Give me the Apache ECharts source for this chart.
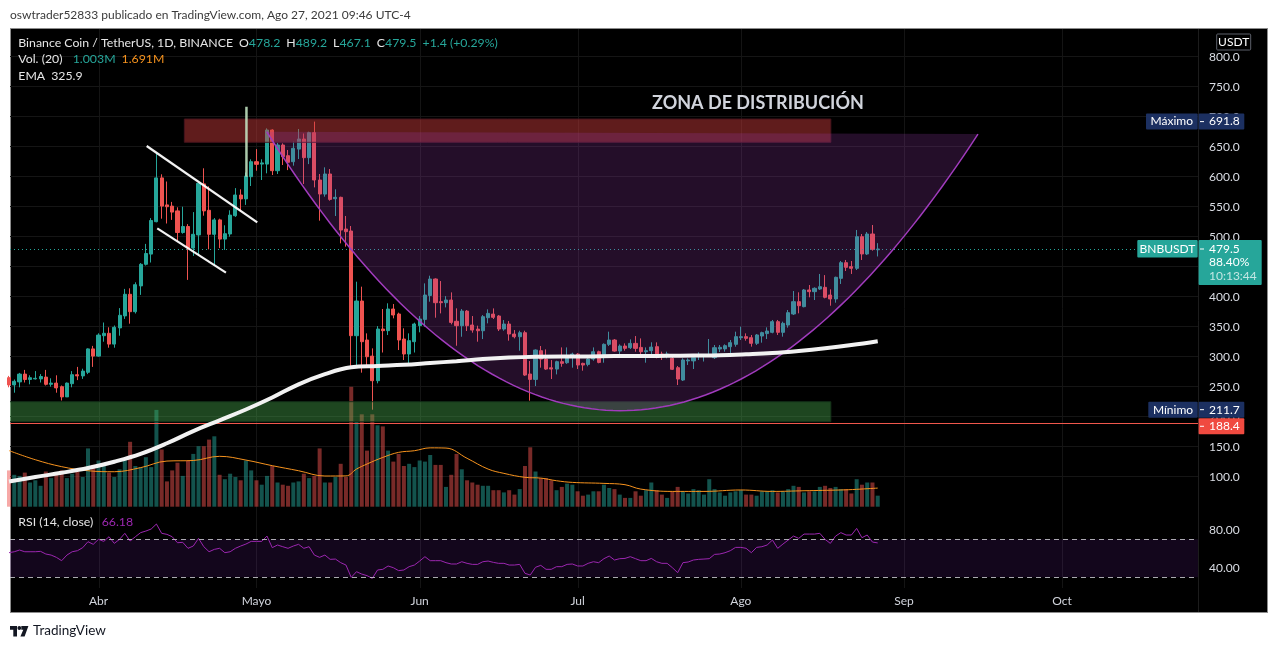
<!DOCTYPE html>
<html>
<head>
<meta charset="utf-8">
<script src="https://cdn.jsdelivr.net/npm/echarts@6/dist/echarts.min.js"></script>
<style>
html,body{margin:0;padding:0;background:#fff;width:1279px;height:649px;overflow:hidden}
#frame{position:absolute;left:10px;top:28px;width:1256px;height:583px;background:#000;border:1px solid #8c8c8c}
#chart{position:absolute;left:0;top:0;width:1279px;height:649px}
</style>
</head>
<body>
<div id="frame"></div>
<div id="chart"></div>
<script>
(function(){
// ---------- DATA ----------
const startDay = 74; // day-of-year of first candle, 15 Mar 2021
const monthStarts = [91, 121, 152, 182, 213, 244, 274];
const monthNames = ['Abr', 'Mayo', 'Jun', 'Jul', 'Ago', 'Sep', 'Oct'];

const open = [
 265,253,258,271,262,263,263,266,254,256,250,
 233,255,270,268,274,313,301,335,339,321,
 348,368,404,375,418,454,471,525,598,553,
 551,543,507,517,481,503,588,544,504,528,
 496,504.5,535,569.5,563,600,625,621,621,677.8,
 610,652.8,635,625,646,662.8,631.7,673.4,594.5,571,
 604.5,563.3,565.6,512.8,509.5,335,392.8,327.8,301,260,
 346.1,343.4,379.5,371.1,329.5,304.5,325,351.7,362.2,402,
 429.5,391.7,390,394.4,359,351.7,376,352.8,346,343.3,
 365,371,367.8,346.1,354.4,337.8,333.3,340,271.1,262.2,
 310,296,281.5,279.4,291.7,290,298.9,304.4,288.9,287.2,
 296.1,308.3,299,320.6,327.8,309.4,317.8,315,322.2,315.5,
 308.3,310,316.7,304.5,301.7,297.3,281.7,261.1,293,293,
 300.1,301,302,298.4,312.8,313,316.7,320.6,331.7,333.4,
 331.7,322.3,334.5,338.5,340.6,358.4,340.6,352.8,371.2,391.7,
 383.4,411.2,408.4,412.8,415.6,402.8,396.2,430.6,456.7,450.1,
 447.3,500,471.2,504.5,478.2
];
const high = [
 268,262,273,278,269,276,271,278,264,269,252,
 257,276,283,280,314,318,339,357,349,352,
 381,413,414,424,456,488,531,639,604,592,
 558,549,550,521,541,590,614,584,531,530,
 519,544,581,579,607,629,646,629,680.6,679,
 656.7,655.6,644.5,658.4,679.5,672,675,691.8,604.5,615.6,
 612.8,579,566.7,534.5,517.8,425,416.7,338.9,313.9,351,
 379.5,389,387.8,373.4,347.3,338.9,356.7,367.8,422.2,435,
 430.6,426.1,401,407.2,380.6,379.4,377.8,367.8,351.7,369.4,
 378.9,380.5,369.4,361.1,359.4,344.4,343.3,343.3,292.8,312.2,
 317.8,312.2,294.4,293.3,315.5,315.5,306.7,306,290,301.1,
 315.5,310,322.2,341.7,329.4,320.5,322.2,328.9,334.4,330.5,
 315.5,324,323.9,308.4,308.4,300.1,284.5,297.3,297.3,302.8,
 307.3,304,329.5,319.5,319.5,320.6,327.8,341.7,350,338.9,
 336.2,337.8,341.7,348.9,361.2,361.2,358.4,377.8,409.5,407.3,
 412.8,419.5,415.6,437.9,436,412.3,433.4,459.5,461.2,459.5,
 511.2,504.5,507.8,519.5,489.2
];
const low = [
 249,240,249,257,254,262,257,252,250,240,227,
 233,249,261,263,271,283,300,325,315,315,
 335,363,355,372,403,452,457,524,530,522,
 528,493,505,428,468,468,535,479,452,481,
 478,500,533,542,553,584.5,610,594.5,605.6,602.8,
 604.5,619.5,611,618.4,629.5,587.8,621,582.2,526.7,566.7,
 560,534.5,488.9,483.4,283.4,283.4,273.4,283.4,211.7,255.6,
 307,336.1,363.9,311.1,294.5,288.9,307,340.6,350,391.7,
 365,372.2,382.2,353.9,318.3,333.3,342.8,340,325,329.4,
 355.6,362.8,342.8,343.3,326.7,330.5,310,268,226.7,251.1,
 281.7,278,262.8,270.5,283.3,288,281.7,279.4,276.7,284,
 293.3,289,290,317.8,308.3,304.4,310,312.8,308.3,304.4,
 290,303,297.3,294.5,297.3,277.8,252.8,259.5,286.2,279.5,
 294.5,292,300,296.2,307.8,308.4,305.6,316.7,327.8,326.7,
 316.7,319.5,323.4,329.5,339,336.2,333.4,348.4,369.5,372.3,
 382.3,399,394.5,411.2,397.3,385,390,421.2,442.8,437.9,
 444.5,461.2,469.5,476.7,467.1
];
const close = [
 253,259,271,262,265,264,267,254,256,248,233,
 256,270,268,276,313,301,336,339,321,349,
 369,404,375,420,454,472,527,598,551,550,
 541,507,517,481,504,589,543,504,528,496,
 505,536,569.5,563,601,625,620.6,623,677.8,610,
 652.8,633.3,624,647.3,662.8,631.7,673.4,594.5,571.1,604.5,
 562.2,565.6,511.1,508.4,335,392.8,325,300,260,346.1,
 343.4,379.5,369.5,327.8,304.5,326.7,354.5,362.8,402.8,429.5,
 390,390,394.5,357.2,351.7,376.1,351.7,344.4,343.3,366.7,
 372.2,365.6,346.1,354.4,337.8,333.3,340,269.4,262.2,311.1,
 296,279.4,279.4,291.7,288.9,298.9,304.4,286.1,286.1,296.1,
 308.3,290.5,320.6,327.8,309.4,317.8,313.9,322.2,313.9,308.3,
 310,316,304.5,301.7,304.5,279,262.8,294.5,294.5,298.4,
 302.8,303,303.4,315,315.6,318.4,323.4,333.4,333.4,330.6,
 322.3,336.2,340.1,342.8,358.4,340.6,355.6,373.4,391.7,385,
 411.2,408.4,414,416.7,399,396.2,432.3,456.7,449,447.3,
 500,471.2,504.5,479,479.5
];
// volume in millions
const volume = [
 3.3,
 2.9,2.8,3.1,2.2,2.4,1.9,3.2,2.6,2.9,3.3,
 2.6,3.0,3.2,2.7,5.3,3.8,4.2,3.9,3.1,2.7,
 3.4,4.4,5.9,3.7,3.6,4.5,3.6,8.8,5.2,2.3,
 3.3,4.0,2.8,4.2,4.8,5.5,5.5,6.1,6.4,2.9,
 2.5,3.0,2.7,2.4,4.2,3.3,2.4,2.0,2.8,3.7,
 2.2,2.0,1.9,2.2,2.3,3.0,2.6,2.8,5.3,2.2,
 2.2,2.7,3.9,2.7,10.9,7.7,8.4,5.1,8.4,7.4,
 7.3,5.1,4.1,4.8,3.7,3.9,3.6,4.2,4.1,4.7,
 3.8,3.8,1.8,2.9,4.8,3.4,2.4,2.2,2.0,1.9,
 1.9,1.5,1.5,1.3,1.5,1.1,1.6,3.7,5.4,3.2,
 2.6,2.6,2.4,1.5,1.8,2.1,2.0,1.4,1.0,1.1,
 1.4,1.4,2.0,1.7,1.6,1.1,0.8,0.8,1.4,1.0,
 1.5,2.2,1.5,1.1,0.8,1.4,1.8,1.4,1.2,1.6,
 1.5,1.1,2.5,1.6,1.3,1.0,1.3,1.4,1.5,1.1,
 1.1,1.0,1.4,1.4,1.5,1.3,1.4,1.6,1.9,1.8,
 1.3,1.4,1.4,1.8,1.9,1.7,1.8,1.6,1.6,1.2,
 2.5,2.0,2.2,2.2,1.003
];
// 20-period volume moving average, read at these candle indices
const volMaIdx = [0,5,10,15,20,25,30,35,40,45,50,55,60,64,66,68,71,74,77,80,83,87,91,94,98,101,104,107,113,117,120,126,132,139,145,151,158,161,165];
const volMaVal = [5.1,4.27,3.64,3.27,3.18,3.55,4.15,4.2,4.58,4.24,3.73,3.27,2.79,2.8,3.42,3.88,4.48,4.94,5.09,5.35,5.33,4.4,3.42,3.03,2.67,2.6,2.36,2.21,2.12,2.0,1.6,1.39,1.39,1.52,1.39,1.45,1.52,1.58,1.691];
// EMA line, read at these candle indices
const emaIdx = [0,5,10,15,20,25,30,35,40,45,50,55,60,65,70,75,80,85,90,95,100,105,110,115,120,125,130,135,140,145,150,155,160,165];
const emaVal = [92,99.5,106.5,114.5,125,138,155.7,176,194,212,232,254,271,282.3,284.5,286.5,289.5,292.5,296,298.5,300,300.5,300.5,301,301,301.5,302,302.5,304,306,309.5,314,319.5,325.9];
// RSI(14)
const rsi = [
 55.9,56.9,58.7,56.9,56.9,56.9,57.3,54.5,53.4,51,47.5,
 53.4,56.9,58,61.2,67.5,64.7,70,67.8,72.7,65.7,
 70,76.3,68.2,72.7,77,78.7,80.8,86.1,76.3,75.2,
 72.7,66.4,66.8,60.5,62.9,71,62.2,56.9,59.4,60.5,
 55.9,56.9,60.5,62.9,65,67.8,67.8,67.8,73.4,61.2,
 64,62.2,60.5,62.9,64.7,60.5,62.2,53.4,51,53.4,
 48.9,49.2,45.4,42.9,29.9,35.9,33.4,31.7,28.9,37.7,
 38.4,41.9,40.1,37,37.7,41.2,42.9,47.1,51.7,47.5,
 47.5,47.5,45.4,44,44,46.4,44.7,43.6,43.6,46.4,
 47.1,45.7,44.7,44.7,42.9,42.9,43.6,34.2,32.4,40.5,
 42.6,38.4,38.4,41.2,41.2,43.6,44,41.9,41.9,44.7,
 46.4,45.4,49.6,52.4,48.2,49.6,49.9,51.7,49.6,47.5,
 47.5,49.9,46.4,44.7,44.7,40.1,34.9,45.4,46.1,48.2,
 48.9,49.2,49.6,54.1,54.5,55.9,58,61.5,61.5,60.5,
 55.9,61.5,62.2,64,69.2,60.5,65,69.2,73.4,71,
 75.5,75.5,75.5,76.3,69.9,65.7,73.4,77,74.5,74.5,
 81.5,71.7,74.5,67.1,66.18
];
// Annotations drawn on the chart, anchors as [day-of-year, price]
const distZone = [[107.3, 696.2], [230.1, 657.3]];
const supportZone = [[60, 225], [230.1, 191.7]];
const cupArc = [[122.94, 675], [190.05, 210], [258.04, 671]];
const flagUpper = [[100.15, 651.2], [121.15, 524]];
const flagLower = [[102.16, 514], [115.2, 440]];
const poleLine = [[119.1, 716.7], [119.1, 600]];
const zoneTitleAt = [216.25, 722.8];
const zoneTitle = 'ZONA DE DISTRIBUCIÓN';
const levelLine = 188.4;
const rangeHigh = 691.8, rangeLow = 211.7;
const changeAbs = '+1.4 (+0.29%)', changePct = '88.40%', countdown = '10:13:44';

// ---------- BUILD ----------
const UP = '#26a69a', DOWN = '#ef5350';
const candles = open.map((o, i) => [startDay + i, o, close[i], low[i], high[i]]);
const volData = volume.map((v, i) => ({
  value: [startDay + i, v],
  itemStyle: { color: close[i] >= open[i] ? 'rgba(38,166,154,0.5)' : 'rgba(239,83,80,0.5)' }
}));
const volMaData = volMaIdx.map((k, j) => [startDay + k, volMaVal[j]]);
const emaData = emaIdx.map((k, j) => [startDay + k, emaVal[j]]);
const rsiData = rsi.map((v, i) => [startDay + i, v]);
const lastClose = close[close.length - 1];

function renderDrawings(params, api) {
  const c = p => api.coord(p);
  const cs = params.coordSys;
  const ch = [];
  const yLast = Math.round(c([200, lastClose])[1]) + 0.5;
  const yLvl = Math.round(c([200, levelLine])[1]) - 0.5;
  ch.push({ type: 'line', shape: { x1: cs.x, y1: yLast, x2: cs.x + cs.width, y2: yLast },
    style: { stroke: '#26a69a', lineWidth: 1, lineDash: [1, 3] } });
  ch.push({ type: 'line', shape: { x1: cs.x, y1: yLvl, x2: cs.x + cs.width, y2: yLvl },
    style: { stroke: '#f0574c', lineWidth: 1 } });
  let a = c(distZone[0]), b = c(distZone[1]);
  ch.push({ type: 'rect', shape: { x: a[0], y: a[1], width: b[0] - a[0], height: b[1] - a[1] },
    style: { fill: 'rgba(205,60,60,0.47)', stroke: 'rgba(70,20,30,0.9)', lineWidth: 1 } });
  a = c(supportZone[0]); b = c(supportZone[1]);
  ch.push({ type: 'rect', shape: { x: a[0], y: a[1], width: b[0] - a[0], height: b[1] - a[1] },
    style: { fill: 'rgba(76,175,80,0.4)', stroke: 'rgba(20,50,25,0.9)', lineWidth: 1 } });
  const P0 = cupArc[0], B = cupArc[1], P2 = cupArc[2];
  const ctrl = [2 * B[0] - (P0[0] + P2[0]) / 2, 2 * B[1] - (P0[1] + P2[1]) / 2];
  const pts = [];
  for (let j = 0; j <= 100; j++) {
    const t = j / 100, u = 1 - t;
    pts.push(c([u * u * P0[0] + 2 * u * t * ctrl[0] + t * t * P2[0],
                u * u * P0[1] + 2 * u * t * ctrl[1] + t * t * P2[1]]));
  }
  ch.push({ type: 'polygon', shape: { points: pts }, style: { fill: 'rgba(150,60,170,0.24)' } });
  ch.push({ type: 'polyline', shape: { points: pts }, style: { stroke: '#a13bbd', lineWidth: 1.5, fill: 'none' } });
  [flagUpper, flagLower].forEach(l => {
    const p1 = c(l[0]), p2 = c(l[1]);
    ch.push({ type: 'line', shape: { x1: p1[0], y1: p1[1], x2: p2[0], y2: p2[1] },
      style: { stroke: 'rgba(255,255,255,0.95)', lineWidth: 2.2 } });
  });
  const q1 = c(poleLine[0]), q2 = c(poleLine[1]);
  ch.push({ type: 'line', shape: { x1: q1[0], y1: q1[1], x2: q2[0], y2: q2[1] },
    style: { stroke: 'rgba(200,236,200,0.85)', lineWidth: 2.5 } });
  const tp = c(zoneTitleAt);
  ch.push({ type: 'text', x: tp[0], y: tp[1],
    style: { text: zoneTitle, fill: '#d1d4dc', font: 'bold 18px Lato', align: 'center', textAlign: 'center',
      verticalAlign: 'middle', textVerticalAlign: 'middle' } });
  return { type: 'group', children: ch };
}

const option = {
  animation: false,
  backgroundColor: 'transparent',
  textStyle: { fontFamily: 'Lato' },
  grid: [
    { left: 10, width: 1188, top: 26.7, height: 480 },
    { left: 10, width: 1188, top: 510.8, height: 76 }
  ],
  xAxis: [
    { type: 'value', gridIndex: 0, min: 74.19, max: 299.83, show: false },
    { type: 'value', gridIndex: 1, min: 74.19, max: 299.83,
      axisLine: { show: false }, axisTick: { show: false }, splitLine: { show: false },
      axisLabel: { customValues: monthStarts, color: '#d1d4dc', fontSize: 12, margin: 8,
        formatter: v => { const k = monthStarts.indexOf(Math.round(v)); return k >= 0 ? monthNames[k] : ''; } } }
  ],
  yAxis: [
    { type: 'value', gridIndex: 0, position: 'right', min: 50, max: 850, interval: 50,
      axisLine: { show: false }, axisTick: { show: false },
      splitLine: { lineStyle: { color: '#151515' }, showMinLine: false, showMaxLine: false },
      axisLabel: { color: '#d9dce3', fontSize: 12, margin: 11,
        formatter: v => (v >= 100 && v <= 800) ? v.toFixed(1) : '' } },
    { type: 'value', gridIndex: 0, min: 0, max: 43.64, show: false },
    { type: 'value', gridIndex: 1, position: 'right', min: 20, max: 100, interval: 20,
      axisLine: { show: false }, axisTick: { show: false }, splitLine: { show: false },
      axisLabel: { color: '#d9dce3', fontSize: 12, margin: 11,
        formatter: v => (v === 40 || v === 80) ? v.toFixed(2) : '' } }
  ],
  series: [
    { name: 'Vol', type: 'bar', xAxisIndex: 0, yAxisIndex: 1, data: volData, barWidth: 4, z: 1, silent: true },
    { name: 'VolMA', type: 'line', xAxisIndex: 0, yAxisIndex: 1, data: volMaData, smooth: 0.4, showSymbol: false,
      lineStyle: { color: '#f7931e', width: 1 }, z: 1, silent: true },
    { name: 'BNBUSDT', type: 'candlestick', xAxisIndex: 0, yAxisIndex: 0, data: candles,
      encode: { x: 0, y: [1, 2, 3, 4] }, barWidth: 3.6, z: 2,
      itemStyle: { color: UP, color0: DOWN, borderColor: UP, borderColor0: DOWN, borderWidth: 1 } },
    { name: 'drawings', type: 'custom', xAxisIndex: 0, yAxisIndex: 0, data: [[200, 400]],
      encode: { x: 0, y: 1 }, renderItem: renderDrawings, clip: true, z: 3, silent: true },
    { name: 'EMA', type: 'line', xAxisIndex: 0, yAxisIndex: 0, data: emaData, smooth: 0.4, showSymbol: false,
      lineStyle: { color: '#f2f2f2', width: 4 }, z: 4, silent: true },
    { name: 'RSI', type: 'line', xAxisIndex: 1, yAxisIndex: 2, data: rsiData, showSymbol: false,
      lineStyle: { color: '#9c27b0', width: 1 }, z: 3, silent: true,
      markArea: { silent: true, itemStyle: { color: 'rgba(130,40,190,0.15)' }, data: [[{ yAxis: 30 }, { yAxis: 70 }]] },
      markLine: { silent: true, symbol: ['none', 'none'], label: { show: false },
        lineStyle: { color: 'rgba(200,200,205,0.85)', type: [5, 4], width: 1 },
        data: [{ yAxis: 70 }, { yAxis: 30 }] } }
  ]
};

const chart = echarts.init(document.getElementById('chart'));
chart.setOption(option);

const yp = v => chart.convertToPixel({ yAxisIndex: 0 }, v);
const xp = d => chart.convertToPixel({ xAxisIndex: 0 }, d);

const mctx = document.createElement('canvas').getContext('2d');
function tw(s, font) { mctx.font = font; return mctx.measureText(s).width; }

function T(x, y, text, fill, font, align, z) {
  return { type: 'text', x: x, y: y, z: z || 60, silent: true,
    style: { text: text, fill: fill, font: font || '12px Lato', align: align || 'left', textAlign: align || 'left',
      verticalAlign: 'middle', textVerticalAlign: 'middle' } };
}
function R(x, y, w, h, fill, z, stroke) {
  return { type: 'rect', z: z || 50, silent: true, shape: { x: x, y: y, width: w, height: h, r: 1 },
    style: stroke ? { fill: fill, stroke: stroke, lineWidth: 1 } : { fill: fill } };
}
function Dash(yy) {
  return { type: 'line', z: 52, silent: true, shape: { x1: 1200, y1: yy, x2: 1204, y2: yy },
    style: { stroke: '#ffffff', lineWidth: 1 } };
}

const g = [];
monthStarts.forEach(d => {
  const x = Math.round(xp(d)) + 0.5;
  g.push({ type: 'line', z: -1, silent: true, shape: { x1: x, y1: 29, x2: x, y2: 588 }, style: { stroke: '#141414', lineWidth: 1 } });
});
g.push({ type: 'line', z: -1, silent: true, shape: { x1: 1198.5, y1: 29, x2: 1198.5, y2: 612 }, style: { stroke: '#1c1c1c', lineWidth: 1 } });

g.push(T(10, 15, 'oswtrader52833 publicado en TradingView.com, Ago 27, 2021 09:46 UTC-4', '#3b3b3b', '12px Lato'));
g.push({ type: 'polygon', z: 60, silent: true, shape: { points: [[10, 626], [17, 626], [17, 636.5], [13.3, 636.5], [13.3, 629.8], [10, 629.8]] }, style: { fill: '#131722' } });
g.push({ type: 'circle', z: 60, silent: true, shape: { cx: 19.3, cy: 628, r: 1.9 }, style: { fill: '#131722' } });
g.push({ type: 'polygon', z: 60, silent: true, shape: { points: [[21.3, 626], [28.4, 626], [24.6, 636.5], [20.4, 636.5], [23.3, 629.8], [21.3, 629.8]] }, style: { fill: '#131722' } });
g.push(T(33, 631, 'TradingView', '#131722', '13.5px Lato'));

const W = '#e6e6e6', TEAL = '#26a69a', ORANGE = '#f7931e';
const LF = '12.3px Lato';
function legendLine(y, groups) {
  let prevEnd = -1e9;
  groups.forEach(gr => {
    let x = Math.max(gr.x, prevEnd + 6);
    gr.parts.forEach(p => {
      g.push(T(x, y, p[0], p[1], LF));
      x += tw(p[0], LF);
    });
    prevEnd = x;
  });
}
const n = open.length - 1;
legendLine(42.7, [
  { x: 18.3, parts: [['Binance Coin / TetherUS, 1D, BINANCE', W]] },
  { x: 234.3, parts: [['O', W], [open[n].toFixed(1), TEAL]] },
  { x: 279, parts: [['H', W], [high[n].toFixed(1), TEAL]] },
  { x: 323.3, parts: [['L', W], [low[n].toFixed(1), TEAL]] },
  { x: 366.7, parts: [['C', W], [lastClose.toFixed(1), TEAL]] },
  { x: 410.7, parts: [[changeAbs, TEAL]] }
]);
legendLine(59.3, [
  { x: 18.3, parts: [['Vol. (20)', W]] },
  { x: 72.7, parts: [[volume[n].toFixed(3) + 'M', TEAL]] },
  { x: 117.3, parts: [[volMaVal[volMaVal.length - 1].toFixed(3) + 'M', ORANGE]] }
]);
legendLine(75.7, [
  { x: 18.3, parts: [['EMA', W]] },
  { x: 47.3, parts: [[emaVal[emaVal.length - 1].toFixed(1), W]] }
]);
legendLine(522.3, [
  { x: 18.3, parts: [['RSI (14, close)', W]] },
  { x: 101.7, parts: [[rsi[n].toFixed(2), '#9c27b0']] }
]);

g.push(R(1216.7, 34, 34, 16, '#000000', 55, '#5d606b'));
g.push(T(1233.7, 42, 'USDT', '#ffffff', '12px Lato', 'center', 56));

const NAVY = '#1c3061';
let ty = yp(rangeHigh);
g.push(R(1146, ty - 8, 51.7, 16, NAVY), T(1171.8, ty, 'Máximo', '#ffffff', '12px Lato', 'center'),
       R(1198.6, ty - 8, 45.7, 16, NAVY), Dash(ty), T(1209, ty, rangeHigh.toFixed(1), '#ffffff'));
ty = yp(lastClose);
g.push(R(1137.3, ty - 9, 60.4, 17.5, TEAL), T(1167.5, ty, 'BNBUSDT', '#ffffff', '12px Lato', 'center'),
       R(1198.6, ty - 9, 63.1, 45, TEAL), Dash(ty), T(1209, ty, lastClose.toFixed(1), '#ffffff'),
       T(1209, ty + 13.3, changePct, '#ffffff'), T(1209, ty + 27.6, countdown, 'rgba(255,255,255,0.72)'));
ty = yp(rangeLow);
g.push(R(1148.3, ty - 8, 49.4, 16, NAVY), T(1173, ty, 'Mínimo', '#ffffff', '12px Lato', 'center'),
       R(1198.6, ty - 8, 45.7, 16, NAVY), Dash(ty), T(1209, ty, rangeLow.toFixed(1), '#ffffff'));
const minBottom = ty + 8;
const yl = yp(levelLine);
const tagTop = Math.max(yl - 8, minBottom + 0.6);
g.push(R(1198.6, tagTop, 45.7, 16, '#f04a40'), Dash(tagTop + 8), T(1209, tagTop + 8, levelLine.toFixed(1), '#ffffff'));

chart.setOption({ graphic: { elements: g } });
})();
</script>
</body>
</html>
